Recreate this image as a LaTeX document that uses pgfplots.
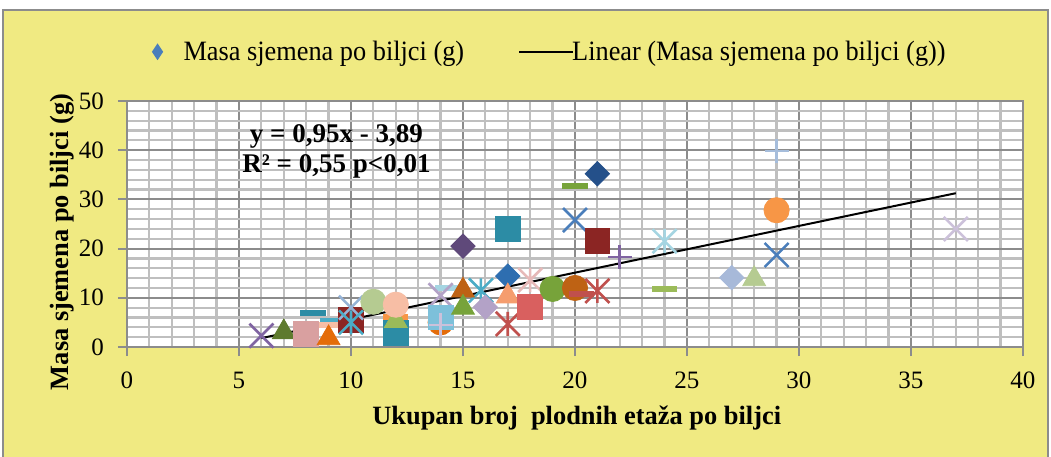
\documentclass[border=0pt]{standalone}
\usepackage{pgfplots}
\pgfplotsset{compat=1.18}
\usepackage{fontspec}
\setmainfont{Liberation Serif}
\newfontfamily\legfont[FakeStretch=0.94]{Liberation Serif}
\definecolor{bgyellow}{RGB}{240,234,130}
\definecolor{legblue}{RGB}{74,126,187}
\definecolor{cpurple}{RGB}{128,100,162}
\definecolor{cdkpurple}{RGB}{95,73,122}
\definecolor{clavender}{RGB}{179,162,199}
\definecolor{cltlav}{RGB}{204,193,218}
\definecolor{colive}{RGB}{94,122,46}
\definecolor{cgreen}{RGB}{119,163,58}
\definecolor{cltgreen}{RGB}{155,187,89}
\definecolor{cpalegreen}{RGB}{181,203,145}
\definecolor{crose}{RGB}{217,160,160}
\definecolor{cteal}{RGB}{44,140,165}
\definecolor{cltteal}{RGB}{75,172,198}
\definecolor{cltblue}{RGB}{125,192,218}
\definecolor{cpaleblue}{RGB}{165,213,226}
\definecolor{corange}{RGB}{228,108,10}
\definecolor{clorange}{RGB}{247,150,70}
\definecolor{cbrown}{RGB}{190,98,20}
\definecolor{csalmon}{RGB}{245,157,110}
\definecolor{cpeach}{RGB}{247,190,165}
\definecolor{cdkred}{RGB}{139,37,35}
\definecolor{cred}{RGB}{192,80,77}
\definecolor{ccoral}{RGB}{217,96,95}
\definecolor{cpink}{RGB}{230,185,184}
\definecolor{cblue}{RGB}{74,126,187}
\definecolor{cmblue}{RGB}{46,110,176}
\definecolor{cdkblue}{RGB}{36,80,138}
\definecolor{csteel}{RGB}{167,185,217}
\definecolor{cskyblue}{RGB}{149,179,215}
\definecolor{cplusblue}{RGB}{166,189,219}
\pgfdeclareplotmark{xstar}{%
  \pgfpathmoveto{\pgfqpoint{-.70710678\pgfplotmarksize}{-.70710678\pgfplotmarksize}}%
  \pgfpathlineto{\pgfqpoint{.70710678\pgfplotmarksize}{.70710678\pgfplotmarksize}}%
  \pgfpathmoveto{\pgfqpoint{-.70710678\pgfplotmarksize}{.70710678\pgfplotmarksize}}%
  \pgfpathlineto{\pgfqpoint{.70710678\pgfplotmarksize}{-.70710678\pgfplotmarksize}}%
  \pgfpathmoveto{\pgfqpoint{0pt}{-.70710678\pgfplotmarksize}}%
  \pgfpathlineto{\pgfqpoint{0pt}{.70710678\pgfplotmarksize}}%
  \pgfusepathqstroke}
\pgfplotsset{
  psq/.style={only marks, forget plot, color=#1, mark=square*, mark size=6.2pt},
  pcirc/.style={only marks, forget plot, color=#1, mark=*, mark size=6.3pt},
  ptri/.style={only marks, forget plot, color=#1, mark=triangle*, mark size=6.6pt},
  pdiam/.style={only marks, forget plot, color=#1, mark=square*, mark size=4.3pt, mark options={rotate=45}},
  px/.style={only marks, forget plot, color=#1, mark=x, mark size=8.5pt, mark options={line width=1.3pt}},
  pstar/.style={only marks, forget plot, color=#1, mark=xstar, mark size=8.5pt, mark options={line width=1.3pt}},
  pplus/.style={only marks, forget plot, color=#1, mark=+, mark size=6pt, mark options={line width=1.3pt}},
  pdash/.style={only marks, forget plot, color=#1, mark=-, mark size=6.3pt, mark options={line width=3pt}},
}
\begin{document}
\begin{tikzpicture}
\path[use as bounding box] (-63.5pt,-54.5pt) rectangle (462pt,173.5pt);
\fill[white] (-63.5pt,-54.5pt) rectangle (462pt,173.5pt);
\draw[fill=bgyellow, draw=black!45, line width=1pt] (-62pt,-60pt) rectangle (460.5pt,168.5pt);
\begin{axis}[
  at={(0pt,0pt)}, anchor=south west,
  scale only axis, width=448pt, height=123pt,
  xmin=0, xmax=40, ymin=0, ymax=50,
  xtick={0,5,...,40}, ytick={0,10,...,50},
  minor x tick num=4, minor y tick num=4,
  grid=both,
  major grid style={color=black!45, line width=1pt},
  minor grid style={color=black!25, line width=1.1pt},
  axis background/.style={fill=white},
  axis line style={color=black!45, line width=1pt},
  tick style={color=black!45, line width=1pt},
  tick align=outside, major tick length=4.5pt, minor tick length=0pt,
  xtick pos=left, ytick pos=left,
  clip=false,
  /pgf/number format/assume math mode=true,
  tick label style={font=\fontsize{12.5}{14}\selectfont},
  xticklabel style={yshift=-4.5pt},
  yticklabel style={xshift=-3.5pt},
  xlabel={Ukupan broj\ \ plodnih etaža po biljci},
  ylabel={Masa sjemena po biljci (g)},
  label style={font=\bfseries\fontsize{13.2}{15}\selectfont},
  xlabel style={at={(rel axis cs:0.502,0)}, anchor=center, yshift=-35.5pt},
  ylabel style={at={(rel axis cs:0,0.427)}, anchor=center, yshift=32.5pt},
  legend style={draw=none, fill=none, legend columns=2, at={(0.473,1.2)}, anchor=center,
    nodes={font=\legfont\fontsize{14}{16}\selectfont},
    /tikz/every even column/.append style={column sep=25pt}},
]
\addlegendimage{legend image code/.code={\path[draw=none,fill=none] (-2pt,0pt) (11pt,0pt); \fill[legblue, draw=none] (0pt,4.2pt) -- (2.8pt,0pt) -- (0pt,-4.2pt) -- (-2.8pt,0pt) -- cycle;}}
\addlegendentry{Masa sjemena po biljci (g)}
\addlegendimage{legend image code/.code={\draw[black, line width=1pt] (0pt,0pt) -- (27pt,0pt);}}
\addlegendentry{\hspace{-3pt}Linear (Masa sjemena po biljci (g))}
% hidden / background markers first
\addplot[pdash=cteal] coordinates {(8.3,6.9)};
\addplot[pdash=cltteal] coordinates {(9.2,5.3)};
\addplot[pdash=cpeach] coordinates {(9,4.5)};
\addplot[pdash=clorange] coordinates {(12,6.0)};
\addplot[pdash=cpurple] coordinates {(12,4.8)};
\addplot[pcirc=corange] coordinates {(14,5.0)};
\addplot[pdash=cpaleblue] coordinates {(14.3,12)};
\addplot[px=clavender] coordinates {(14,10.5)};
% main markers
\addplot[px=cpurple] coordinates {(6,2.3)};
\addplot[ptri=colive] coordinates {(7,3)};
\addplot[psq=crose] coordinates {(8,2.6)};
\addplot[ptri=corange] coordinates {(9,1.8)};
\addplot[psq=cdkred] coordinates {(10,5.5)};
\addplot[px=cskyblue] coordinates {(10,8.0)};
\addplot[pstar=cltteal] coordinates {(10,5.0)};
\addplot[pcirc=cpalegreen] coordinates {(11,9.2)};
\addplot[psq=cteal] coordinates {(12,2.8)};
\addplot[ptri=cltgreen] coordinates {(12,5.3)};
\addplot[pcirc=cpeach] coordinates {(12,8.6)};
\addplot[psq=cltblue] coordinates {(14,6.0)};
\addplot[pplus=cltlav] coordinates {(14,4.5)};
\addplot[pstar=cltteal] coordinates {(15.8,11.5)};
\addplot[ptri=cbrown] coordinates {(15,11.5)};
\addplot[ptri=cgreen] coordinates {(15,8.0)};
\addplot[pdiam=clavender] coordinates {(16,8.1)};
\addplot[pdiam=cmblue] coordinates {(17,14.4)};
\addplot[pstar=cpink] coordinates {(18,13.6)};
\addplot[ptri=csalmon] coordinates {(17,10.3)};
\addplot[pstar=cred] coordinates {(17,4.7)};
\addplot[psq=ccoral] coordinates {(18,8.2)};
\addplot[pcirc=cgreen] coordinates {(19,11.8)};
\addplot[pcirc=cbrown] coordinates {(20,12.0)};
\addplot[pdash=cred] coordinates {(20.3,10.8)};
\addplot[pstar=cred] coordinates {(21,11.4)};
\addplot[pdiam=cdkpurple] coordinates {(15,20.5)};
\addplot[psq=cteal] coordinates {(17,24.0)};
\addplot[pdash=cgreen] coordinates {(20,32.7)};
\addplot[pdiam=cdkblue] coordinates {(21,35.2)};
\addplot[px=cblue] coordinates {(20,25.8)};
\addplot[psq=cdkred] coordinates {(21,21.5)};
\addplot[pplus=cpurple] coordinates {(22,18.3)};
\addplot[pstar=cpaleblue] coordinates {(24,21.5)};
\addplot[pdash=cltgreen] coordinates {(24,11.8)};
\addplot[pdiam=csteel] coordinates {(27,14.1)};
\addplot[ptri=cpalegreen] coordinates {(28,13.8)};
\addplot[pcirc=clorange] coordinates {(29,27.8)};
\addplot[px=cblue] coordinates {(29,18.7)};
\addplot[pplus=cplusblue] coordinates {(29,39.8)};
\addplot[px=cltlav] coordinates {(37,24.0)};
% trend line
\addplot[black, line width=1pt, forget plot] coordinates {(6,1.81) (37,31.26)};
\node[font=\bfseries\fontsize{13.5}{15}\selectfont, align=center] at (axis cs:9.35,39.7) {y = 0,95x - 3,89\\R² = 0,55 p<0,01};
\end{axis}
\end{tikzpicture}
\end{document}
